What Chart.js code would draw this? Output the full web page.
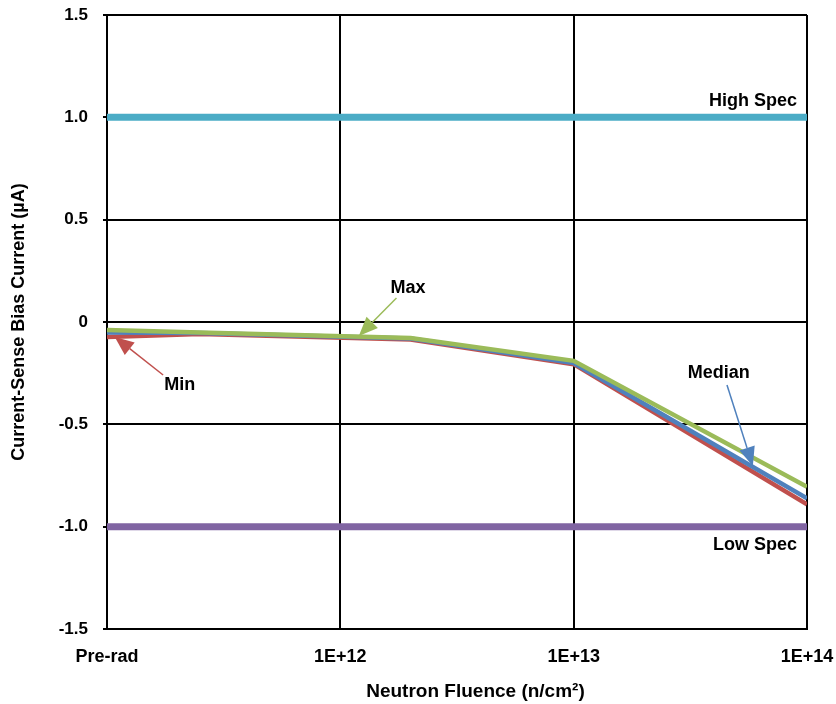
<!DOCTYPE html>
<html>
<head>
<meta charset="utf-8">
<script src="https://cdn.jsdelivr.net/npm/chart.js@4"></script>
<style>
  body { margin: 0; background: #fff; }
  canvas { display: block; }
</style>
</head>
<body>
<canvas id="biasChart" width="836" height="704"></canvas>
<script>
// Fluence levels (n/cm2) - pre-rad sits at the 1E+11 position
const fluence = [1e11, 2.5e11, 2e12, 1e13, 1e14];
const maxValues = [-0.039, -0.051, -0.078, -0.19, -0.805];
const medianValues = [-0.051, -0.054, -0.081, -0.2, -0.862];
const minValues = [-0.073, -0.059, -0.086, -0.206, -0.891];

// spec limits
const specRange = [1e11, 1e14];
const highSpec = [1.0, 1.0];
const lowSpec = [-1.0, -1.0];

const xTicks = [1e11, 1e12, 1e13, 1e14];
const xTickLabels = ['Pre-rad', '1E+12', '1E+13', '1E+14'];
const yTicks = [-1.5, -1.0, -0.5, 0, 0.5, 1.0, 1.5];
const yTickLabels = ['-1.5', '-1.0', '-0.5', '0', '0.5', '1.0', '1.5'];

const toPoints = (xs, ys) => xs.map((x, i) => ({ x: x, y: ys[i] }));

Chart.defaults.font.family = "'Liberation Sans', Arial, sans-serif";
Chart.defaults.font.weight = 'bold';
Chart.defaults.font.size = 17;
Chart.defaults.color = '#000';

// Callout labels with arrows, placed in data space
const callouts = [
  { text: 'Max', color: '#9BBB59', label: [1.95e12, 0.166], from: [1.74e12, 0.117], to: [1.2e12, -0.068] },
  { text: 'Min', color: '#C0504D', label: [2.05e11, -0.308], from: [1.74e11, -0.259], to: [1.08e11, -0.073] },
  { text: 'Median', color: '#4F81BD', label: [4.19e13, -0.249], from: [4.54e13, -0.308], to: [5.86e13, -0.704] }
];
const specLabels = [
  { text: 'High Spec', y: 1.08 },
  { text: 'Low Spec', y: -1.09 }
];

function drawArrow(ctx, x1, y1, x2, y2, color) {
  const ang = Math.atan2(y2 - y1, x2 - x1);
  const head = 19, half = 8;
  const bx = x2 - head * Math.cos(ang), by = y2 - head * Math.sin(ang);
  ctx.strokeStyle = color;
  ctx.lineWidth = 1.5;
  ctx.beginPath();
  ctx.moveTo(x1, y1);
  ctx.lineTo(bx, by);
  ctx.stroke();
  ctx.fillStyle = color;
  ctx.beginPath();
  ctx.moveTo(x2, y2);
  ctx.lineTo(bx + half * Math.sin(ang), by - half * Math.cos(ang));
  ctx.lineTo(bx - half * Math.sin(ang), by + half * Math.cos(ang));
  ctx.closePath();
  ctx.fill();
}

const annotationPlugin = {
  id: 'callouts',
  afterDatasetsDraw(chart) {
    const { ctx, scales: { x, y } } = chart;
    ctx.save();
    ctx.font = "bold 18px 'Liberation Sans', Arial, sans-serif";
    ctx.textBaseline = 'middle';
    callouts.forEach(c => {
      drawArrow(ctx,
        x.getPixelForValue(c.from[0]), y.getPixelForValue(c.from[1]),
        x.getPixelForValue(c.to[0]), y.getPixelForValue(c.to[1]), c.color);
      ctx.fillStyle = '#000';
      ctx.textAlign = 'center';
      ctx.fillText(c.text, x.getPixelForValue(c.label[0]), y.getPixelForValue(c.label[1]));
    });
    ctx.fillStyle = '#000';
    ctx.textAlign = 'right';
    specLabels.forEach(s => {
      ctx.fillText(s.text, x.getPixelForValue(specRange[1]) - 10, y.getPixelForValue(s.y));
    });
    ctx.restore();
  }
};

const ctx = document.getElementById('biasChart').getContext('2d');
new Chart(ctx, {
  type: 'line',
  data: {
    datasets: [
      {
        label: 'Max',
        data: toPoints(fluence, maxValues),
        borderColor: '#9BBB59',
        borderWidth: 4.5,
        pointRadius: 0,
        tension: 0
      },
      {
        label: 'Median',
        data: toPoints(fluence, medianValues),
        borderColor: '#4F81BD',
        borderWidth: 4.5,
        pointRadius: 0,
        tension: 0
      },
      {
        label: 'Min',
        data: toPoints(fluence, minValues),
        borderColor: '#C0504D',
        borderWidth: 4.5,
        pointRadius: 0,
        tension: 0
      },
      {
        label: 'High Spec',
        data: toPoints(specRange, highSpec),
        borderColor: '#4BACC6',
        borderWidth: 7,
        pointRadius: 0
      },
      {
        label: 'Low Spec',
        data: toPoints(specRange, lowSpec),
        borderColor: '#8064A2',
        borderWidth: 7,
        pointRadius: 0
      }
    ]
  },
  options: {
    responsive: false,
    animation: false,
    layout: {
      padding: { top: 15, right: 29, bottom: 0, left: 0 }
    },
    plugins: {
      legend: { display: false },
      tooltip: { enabled: false }
    },
    scales: {
      x: {
        type: 'logarithmic',
        min: 1e11,
        max: 1e14,
        afterBuildTicks: axis => {
          axis.ticks = xTicks.map(v => ({ value: v }));
        },
        afterFit: axis => {
          axis.height = 75;
          axis.paddingLeft = 0;
          axis.paddingRight = 0;
        },
        grid: {
          color: '#000',
          lineWidth: 2,
          drawTicks: false
        },
        border: { color: '#000', width: 2 },
        ticks: {
          autoSkip: false,
          maxRotation: 0,
          padding: 17,
          font: { size: 18 },
          callback: v => xTickLabels[xTicks.indexOf(v)]
        },
        title: {
          display: true,
          text: '       Neutron Fluence (n/cm²)',
          font: { size: 19, weight: 'bold' },
          padding: { top: 0, bottom: 1 }
        }
      },
      y: {
        min: -1.5,
        max: 1.5,
        afterFit: axis => {
          axis.width = 107;
          axis.paddingTop = 0;
          axis.paddingBottom = 0;
        },
        grid: {
          color: '#000',
          lineWidth: 2,
          tickLength: 4
        },
        border: { color: '#000', width: 2 },
        ticks: {
          stepSize: 0.5,
          padding: 15,
          callback: v => {
            const i = yTicks.findIndex(t => Math.abs(t - v) < 1e-9);
            return i >= 0 ? yTickLabels[i] : '';
          }
        },
        title: {
          display: true,
          text: 'Current-Sense Bias Current (µA)',
          font: { size: 18, weight: 'bold' },
          padding: { top: 8, bottom: 0 }
        }
      }
    }
  },
  plugins: [annotationPlugin]
});
</script>
</body>
</html>
